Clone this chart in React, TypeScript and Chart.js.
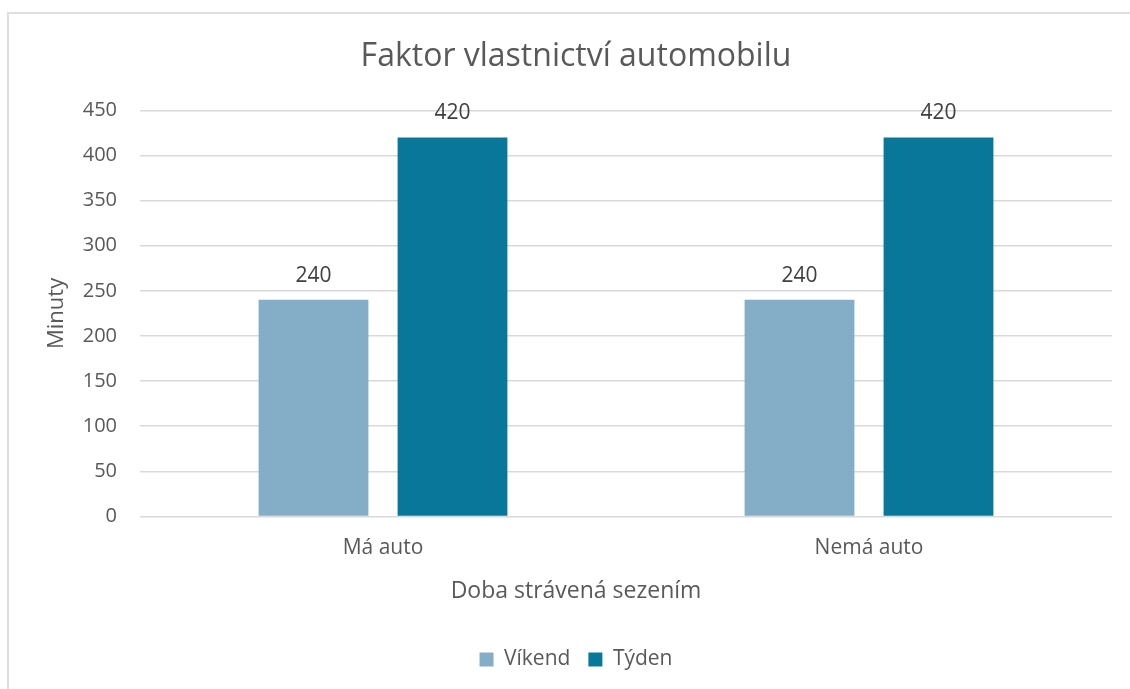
import React, { useEffect, useRef } from "react";
import { Chart, registerables } from "chart.js";

Chart.register(...registerables);

const categories = ["Má auto", "Nemá auto"];
const seriesNames = ["Víkend", "Týden"];
const weekendValues = [240, 240];
const weekValues = [420, 420];
const yTicks = [0, 50, 100, 150, 200, 250, 300, 350, 400, 450];

const FONT = "'Open Sans', sans-serif";
const TEXT = "#595959";

const valueLabels = {
  id: "valueLabels",
  afterDatasetsDraw(chart: any) {
    const ctx = chart.ctx;
    ctx.save();
    ctx.font = `21px ${FONT}`;
    ctx.fillStyle = "#404040";
    ctx.textAlign = "center";
    ctx.textBaseline = "alphabetic";
    chart.data.datasets.forEach((ds: any, i: number) => {
      const meta = chart.getDatasetMeta(i);
      meta.data.forEach((bar: any, j: number) => {
        ctx.fillText(String(ds.data[j]), bar.x, bar.y - 18);
      });
    });
    ctx.restore();
  },
};

export default function App() {
  const ref = useRef<HTMLCanvasElement | null>(null);
  useEffect(() => {
    if (!ref.current) return;
    const chart = new Chart(ref.current, {
      type: "bar",
      data: {
        labels: categories,
        datasets: [
          {
            label: seriesNames[0],
            data: weekendValues,
            backgroundColor: "#84adc7",
            borderWidth: 0,
            categoryPercentage: 0.572,
            barPercentage: 0.79,
          },
          {
            label: seriesNames[1],
            data: weekValues,
            backgroundColor: "#08779a",
            borderWidth: 0,
            categoryPercentage: 0.572,
            barPercentage: 0.79,
          },
        ],
      },
      options: {
        animation: false,
        responsive: false,
        devicePixelRatio: 1,
        layout: { padding: { left: 40, right: 18, top: 0, bottom: 9 } },
        plugins: {
          title: {
            display: true,
            text: "Faktor vlastnictví automobilu",
            color: TEXT,
            font: { family: FONT, size: 32, weight: "normal" },
            padding: { top: 38, bottom: 34 },
          },
          subtitle: {
            display: true,
            position: "bottom",
            weight: 500,
            text: "Doba strávená sezením",
            color: TEXT,
            font: { family: FONT, size: 23, weight: "normal" },
            padding: { top: 11, bottom: 26 },
          },
          legend: {
            position: "bottom",
            weight: 1000,
            labels: {
              color: TEXT,
              font: { family: FONT, size: 21 },
              boxWidth: 14,
              boxHeight: 14,
              padding: 18,
            },
          },
          tooltip: { enabled: false },
        },
        scales: {
          x: {
            grid: { display: false },
            border: { display: false },
            ticks: {
              color: TEXT,
              font: { family: FONT, size: 21 },
              padding: 11,
            },
            afterFit(scale: any) {
              scale.height = 50;
            },
          },
          y: {
            min: 0,
            max: 450,
            afterBuildTicks(scale: any) {
              scale.ticks = yTicks.map((v) => ({ value: v }));
            },
            grid: { color: "#d9d9d9", lineWidth: 1.5, drawTicks: false },
            border: { display: false },
            ticks: {
              color: TEXT,
              font: { family: FONT, size: 20 },
              padding: 23,
            },
            title: {
              display: true,
              text: "Minuty",
              color: TEXT,
              font: { family: FONT, size: 22, weight: "normal" },
              padding: { top: 4, bottom: 0 },
            },
            afterFit(scale: any) {
              scale.width = 100;
            },
          },
        },
      },
      plugins: [valueLabels],
    } as any);
    return () => chart.destroy();
  }, []);

  return (
    <div
      style={{
        position: "fixed",
        left: 0,
        top: 0,
        width: 1130,
        height: 689,
        overflow: "hidden",
        background: "#ffffff",
      }}
    >
      <div
        style={{
          position: "absolute",
          left: 7,
          top: 12,
          width: 1200,
          height: 800,
          border: "2px solid #dedede",
          boxSizing: "border-box",
        }}
      />
      <canvas
        ref={ref}
        width={1130}
        height={689}
        style={{ position: "absolute", left: 0, top: 0, width: 1130, height: 689 }}
      />
    </div>
  );
}
